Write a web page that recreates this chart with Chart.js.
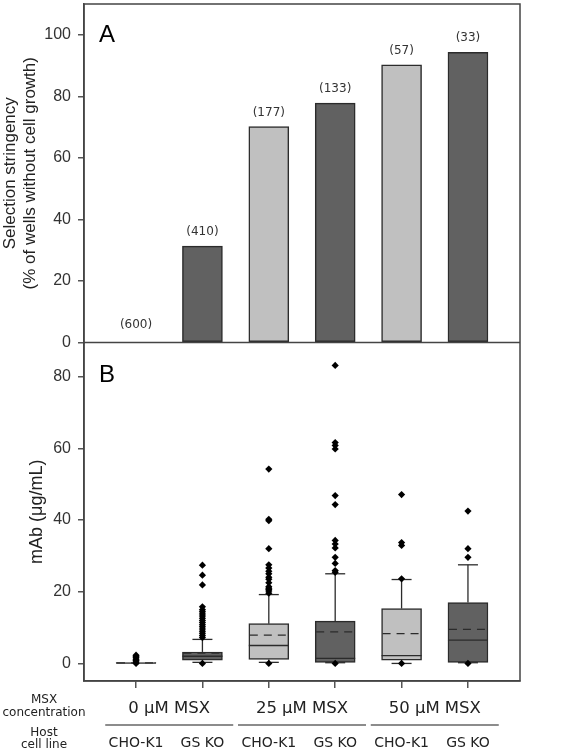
<!DOCTYPE html>
<html>
<head>
<meta charset="utf-8">
<script src="https://cdn.jsdelivr.net/npm/chart.js@4.4.1/dist/chart.umd.min.js"></script>
<style>
    body { margin: 0; background: #fff; }
    canvas { display: block; }
</style>
</head>
<body>
<canvas id="chart" width="566" height="751"></canvas>
<script>
// categories
const hostLines = ["CHO-K1", "GS KO", "CHO-K1", "GS KO", "CHO-K1", "GS KO"];
const msxGroups = ["0 μM MSX", "25 μM MSX", "50 μM MSX"];

// panel A
const stringency = [0, 31.3, 70.2, 77.8, 90.2, 94.3];
const wellCounts = ["(600)", "(410)", "(177)", "(133)", "(57)", "(33)"];
const ticksA = [0, 20, 40, 60, 80, 100];

// panel B (box plots)
const boxLow = [0, 0.9, 1.1, 0.3, 0.9, 0.3];
const boxHigh = [0.25, 3.2, 11.1, 11.8, 15.3, 17.0];
const boxMedian = [0.1, 2.0, 5.0, 1.4, 2.2, 6.5];
const boxMean = [0.15, 2.9, 7.9, 8.8, 8.3, 9.5];
const whiskerLow = [0, 0.3, 0.3, 0.2, 0, 0.2];
const whiskerHigh = [0.25, 6.7, 19.2, 25.0, 23.4, 27.5];
const outliers1 = [0, 0.4, 0.8, 1.2, 1.6, 2.0, 2.3];
const outliers2 = [0, 7.2, 7.8, 8.4, 9.0, 9.6, 10.2, 10.8, 11.4, 12.0, 12.6, 13.2, 13.8, 14.4, 15.0, 15.8, 21.9, 24.6, 27.4];
const outliers3 = [0, 19.6, 20.2, 20.6, 21.0, 21.4, 22.5, 23.5, 24.0, 25.0, 25.7, 26.6, 27.5, 32.0, 39.8, 40.2, 54.2];
const outliers4 = [0, 25.4, 25.9, 27.9, 29.6, 32.2, 33.3, 34.3, 44.3, 46.8, 59.8, 60.8, 61.6, 83.1];
const outliers5 = [0, 23.6, 32.9, 33.7, 47.1];
const outliers6 = [0, 29.6, 32.0, 42.5];
const ticksB = [0, 20, 40, 60, 80];

const lightFill = "#c0c0c0";
const darkFill = "#616161";
const edge = "#2b2b2b";
const fills = hostLines.map((h, i) => i % 2 === 0 ? lightFill : darkFill);

const outlierPoints = [];
[outliers1, outliers2, outliers3, outliers4, outliers5, outliers6].forEach((list, i) => {
    list.forEach(v => outlierPoints.push({x: i + 1, y: v}));
});

function line(ctx, x1, y1, x2, y2){
    ctx.beginPath();
    ctx.moveTo(x1, y1);
    ctx.lineTo(x2, y2);
    ctx.stroke();
}

// whiskers, median and mean drawn right after the boxes
const boxExtras = {
    id: "boxExtras",
    afterDatasetDraw(chart, args){
        if(chart.data.datasets[args.index].id !== "boxes") return;
        const ctx = chart.ctx;
        const xs = chart.scales.x;
        const ys = chart.scales.yB;
        ctx.save();
        ctx.strokeStyle = edge;
        ctx.lineWidth = 1.3;
        for(let i = 0; i < hostLines.length; i++){
            const x = xs.getPixelForValue(i + 1);
            const yTop = ys.getPixelForValue(boxHigh[i]);
            const yBot = ys.getPixelForValue(boxLow[i]);
            const yWh = ys.getPixelForValue(whiskerHigh[i]);
            const yWl = ys.getPixelForValue(whiskerLow[i]);
            if(whiskerHigh[i] > boxHigh[i]){
                line(ctx, x, yTop, x, yWh);
                line(ctx, x - 10, yWh, x + 10, yWh);
            }
            if(whiskerLow[i] < boxLow[i]){
                line(ctx, x, yBot, x, yWl);
                line(ctx, x - 10, yWl, x + 10, yWl);
            }
            const yMed = ys.getPixelForValue(boxMedian[i]);
            line(ctx, x - 20, yMed, x + 20, yMed);
            ctx.setLineDash([8, 6]);
            const yMean = ys.getPixelForValue(boxMean[i]);
            line(ctx, x - 19, yMean, x + 20, yMean);
            ctx.setLineDash([]);
        }
        ctx.restore();
    }
};

// frame, divider, panel letters and all the text under the axis
const decorations = {
    id: "decorations",
    afterDraw(chart){
        const ctx = chart.ctx;
        const area = chart.chartArea;
        const xs = chart.scales.x;
        const yA = chart.scales.yA;
        ctx.save();
        ctx.strokeStyle = "#444";
        ctx.lineWidth = 1.5;
        ctx.strokeRect(area.left, area.top, area.right - area.left, area.bottom - area.top);
        line(ctx, area.left, yA.bottom, area.right, yA.bottom);

        ctx.fillStyle = "#000";
        ctx.textAlign = "left";
        ctx.textBaseline = "middle";
        ctx.font = "24px 'Liberation Sans', Arial, sans-serif";
        ctx.fillText("A", area.left + 15, yA.top + 31);
        ctx.fillText("B", area.left + 15, yA.bottom + 33);

        ctx.fillStyle = "#333";
        ctx.textAlign = "center";
        ctx.font = "12px 'DejaVu Sans', Verdana, sans-serif";
        for(let i = 0; i < stringency.length; i++){
            const x = xs.getPixelForValue(i + 1);
            const y = yA.getPixelForValue(stringency[i]) - (stringency[i] === 0 ? 18 : 14);
            ctx.fillText(wellCounts[i], x, y);
        }

        ctx.font = "16.5px 'DejaVu Sans', Verdana, sans-serif";
        ctx.fillStyle = "#222";
        ctx.strokeStyle = "#666";
        msxGroups.forEach((g, k) => {
            const x = (xs.getPixelForValue(2 * k + 1) + xs.getPixelForValue(2 * k + 2)) / 2;
            ctx.fillText(g, x, 709);
            line(ctx, x - 64, 725, x + 64, 725);
        });

        ctx.font = "12px 'DejaVu Sans', Verdana, sans-serif";
        ctx.fillText("MSX", 44, 700);
        ctx.fillText("concentration", 44, 713);
        ctx.fillText("Host", 44, 733);
        ctx.fillText("cell line", 44, 745);
        ctx.restore();
    }
};

const tickFont = {family: "'Liberation Sans', Arial, sans-serif", size: 16};

// keep the label overflow of the stacked axes from pushing the chart area
function fixAxisWidth(axis){
    axis.width = 84;
    axis.paddingTop = 0;
    axis.paddingBottom = 0;
}

new Chart(document.getElementById("chart"), {
    data: {
        datasets: [
            {
                id: "outliers",
                type: "scatter",
                data: outlierPoints,
                yAxisID: "yB",
                pointStyle: "rectRot",
                pointRadius: 3.6,
                backgroundColor: "#000",
                borderColor: "#000",
                borderWidth: 0
            },
            {
                id: "boxes",
                type: "bar",
                data: boxLow.map((v, i) => ({x: i + 1, y: [v, boxHigh[i]]})),
                yAxisID: "yB",
                backgroundColor: fills,
                borderColor: edge,
                borderWidth: 1.5,
                borderSkipped: false,
                barThickness: 40,
                grouped: false
            },
            {
                id: "stringency",
                type: "bar",
                data: stringency.map((v, i) => ({x: i + 1, y: v})),
                yAxisID: "yA",
                backgroundColor: fills,
                borderColor: edge,
                borderWidth: 1.5,
                borderSkipped: false,
                barThickness: 40,
                grouped: false
            }
        ]
    },
    options: {
        responsive: false,
        animation: false,
        layout: { padding: {top: 2, right: 46, left: 0, bottom: 0} },
        plugins: { legend: {display: false}, tooltip: {enabled: false} },
        scales: {
            x: {
                type: "linear",
                offset: false,
                min: 0.216,
                max: 6.784,
                afterBuildTicks: axis => { axis.ticks = hostLines.map((h, i) => ({value: i + 1})); },
                afterFit: axis => { axis.height = 70; axis.paddingLeft = 0; axis.paddingRight = 0; },
                grid: { offset: false, drawOnChartArea: false, tickLength: 7, color: "#555", lineWidth: 1.5 },
                border: { color: "#444", width: 1.5 },
                ticks: {
                    callback: v => hostLines[v - 1],
                    font: {family: "'DejaVu Sans', Verdana, sans-serif", size: 14},
                    color: "#222",
                    padding: 47,
                    maxRotation: 0
                }
            },
            // the first axis of the stack goes to the bottom
            yB: {
                type: "linear",
                position: "left",
                stack: "panels",
                stackWeight: 1,
                min: -4.9,
                max: 89.5,
                afterBuildTicks: axis => { axis.ticks = ticksB.map(v => ({value: v})); },
                afterFit: fixAxisWidth,
                grid: { drawOnChartArea: false, tickLength: 6, color: "#555", lineWidth: 1.5 },
                border: { color: "#444", width: 1.5 },
                ticks: { font: tickFont, color: "#333", padding: 7 },
                title: {
                    display: true,
                    text: "mAb (μg/mL)",
                    font: {family: "'Liberation Sans', Arial, sans-serif", size: 18},
                    color: "#222",
                    padding: {top: 26, bottom: 0}
                }
            },
            yA: {
                type: "linear",
                position: "left",
                stack: "panels",
                stackWeight: 1,
                min: 0,
                max: 110,
                afterBuildTicks: axis => { axis.ticks = ticksA.map(v => ({value: v})); },
                afterFit: fixAxisWidth,
                grid: { drawOnChartArea: false, tickLength: 6, color: "#555", lineWidth: 1.5 },
                border: { color: "#444", width: 1.5 },
                ticks: { font: tickFont, color: "#333", padding: 7 },
                title: {
                    display: true,
                    text: ["Selection stringency", "(% of wells without cell growth)"],
                    font: {family: "'Liberation Sans', Arial, sans-serif", size: 17},
                    color: "#222",
                    padding: {top: 0, bottom: 0}
                }
            }
        }
    },
    plugins: [boxExtras, decorations]
});
</script>
</body>
</html>
